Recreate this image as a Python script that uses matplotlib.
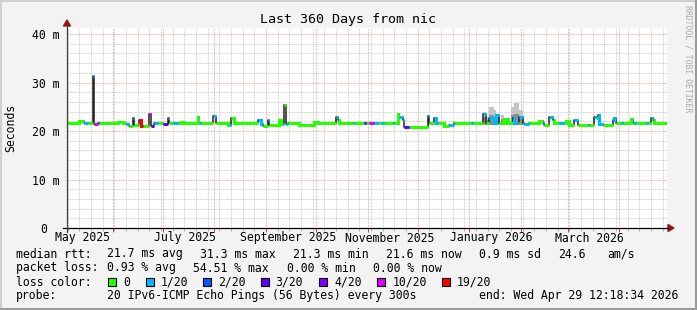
import datetime as dt
import numpy as np
import matplotlib
matplotlib.use("Agg")
import matplotlib.pyplot as plt
import matplotlib.dates as mdates
from matplotlib.lines import Line2D
from matplotlib.patches import Rectangle, Polygon
from matplotlib.transforms import ScaledTranslation

# ---------------- data ----------------
title = "Last 360 Days from nic"
y_label = "Seconds"
watermark = "RRDTOOL / TOBI OETIKER"
end_time = "2026-04-29 12:18:34"
range_days = 360

ytick_values = [0, 10, 20, 30, 40]
ytick_labels = ["0", "10 m", "20 m", "30 m", "40 m"]
xlabel_dates = ["2025-05-14", "2025-07-14", "2025-09-14", "2025-11-14", "2026-01-14", "2026-03-14"]
xlabel_texts = ["May 2025", "July 2025", "September 2025", "November 2025", "January 2026", "March 2026"]

loss_labels = ["0", "1/20", "2/20", "3/20", "4/20", "10/20", "19/20"]
loss_colors = ["#26ff00", "#00b8ff", "#0059ff", "#5e00ff", "#7e00ff", "#dd00ff", "#ff0000"]

# median rtt (ms); each value holds until the next date
med_dates = [
    "2025-05-04", "2025-05-12", "2025-05-15", "2025-05-17", "2025-05-20", "2025-05-21", "2025-05-23", "2025-05-24",
    "2025-06-04", "2025-06-07", "2025-06-09", "2025-06-11", "2025-06-13", "2025-06-14", "2025-06-17", "2025-06-18",
    "2025-06-19", "2025-06-23", "2025-06-24", "2025-06-26", "2025-06-28", "2025-07-01", "2025-07-04", "2025-07-05",
    "2025-07-07", "2025-07-10", "2025-07-12", "2025-07-14", "2025-07-22", "2025-07-23", "2025-07-24", "2025-07-31",
    "2025-08-02", "2025-08-09", "2025-08-10", "2025-08-11", "2025-08-13", "2025-08-27", "2025-08-29", "2025-08-30",
    "2025-09-02", "2025-09-03", "2025-09-09", "2025-09-10", "2025-09-11", "2025-09-12", "2025-09-13", "2025-09-14",
    "2025-09-21", "2025-09-30", "2025-10-02", "2025-10-13", "2025-10-14", "2025-10-15", "2025-10-23", "2025-10-24",
    "2025-10-30", "2025-10-31", "2025-11-02", "2025-11-05", "2025-11-07", "2025-11-09", "2025-11-11", "2025-11-16",
    "2025-11-17", "2025-11-19", "2025-11-20", "2025-11-22", "2025-11-23", "2025-11-26", "2025-12-07", "2025-12-08",
    "2025-12-11", "2025-12-12", "2025-12-13", "2025-12-17", "2025-12-20", "2025-12-23", "2026-01-02", "2026-01-03",
    "2026-01-09", "2026-01-11", "2026-01-13", "2026-01-16", "2026-01-17", "2026-01-19", "2026-01-22", "2026-01-24",
    "2026-01-27", "2026-01-28", "2026-01-30", "2026-01-31", "2026-02-02", "2026-02-03", "2026-02-06", "2026-02-12",
    "2026-02-14", "2026-02-15", "2026-02-18", "2026-02-20", "2026-02-21", "2026-02-24", "2026-02-27", "2026-02-28",
    "2026-03-02", "2026-03-05", "2026-03-07", "2026-03-13", "2026-03-14", "2026-03-17", "2026-03-18", "2026-03-19",
    "2026-03-20", "2026-03-22", "2026-03-28", "2026-03-29", "2026-03-30", "2026-04-02", "2026-04-03", "2026-04-08",
    "2026-04-09", "2026-04-11", "2026-04-17", "2026-04-18", "2026-04-20", "2026-04-21", "2026-04-22",
]
med_ms = [
    21.6, 22.0, 21.6, 21.6, 31.3, 21.5, 21.6, 21.6,
    21.8, 21.6, 21.4, 21.1, 22.6, 21.2, 22.3, 21.1,
    21.1, 23.5, 21.1, 21.6, 21.6, 21.5, 22.6, 21.7,
    21.6, 21.6, 21.9, 21.6, 22.9, 21.6, 21.6, 23.0,
    21.6, 21.2, 21.3, 22.6, 21.6, 22.3, 21.4, 21.0,
    22.2, 21.2, 22.2, 21.5, 21.4, 25.4, 21.5, 21.6,
    21.2, 21.9, 21.6, 22.9, 22.2, 21.6, 21.6, 21.6,
    21.6, 21.6, 21.6, 21.6, 21.6, 21.6, 21.6, 21.6,
    21.6, 23.6, 22.8, 22.2, 20.9, 20.9, 23.1, 21.6,
    22.6, 21.6, 21.6, 21.0, 21.3, 21.6, 21.6, 21.6,
    23.6, 21.6, 22.6, 21.6, 23.4, 21.6, 22.4, 21.6,
    22.6, 21.6, 21.6, 22.9, 21.6, 21.4, 21.6, 22.1,
    21.6, 21.2, 22.9, 22.3, 21.6, 21.6, 21.6, 22.1,
    21.2, 22.3, 21.2, 21.2, 21.2, 22.9, 22.6, 23.2,
    21.4, 21.2, 22.3, 22.6, 21.6, 21.6, 21.6, 22.4,
    21.6, 21.6, 21.6, 21.6, 22.7, 22.3, 21.6,
]
med_loss = [
    0, 0, 1, 0, 1, 5, 2, 0,
    0, 0, 1, 0, 1, 0, 6, 6,
    0, 5, 3, 1, 0, 3, 1, 0,
    1, 0, 0, 0, 0, 1, 0, 1,
    0, 0, 1, 0, 0, 1, 1, 0,
    1, 0, 0, 0, 1, 0, 1, 0,
    0, 0, 0, 1, 0, 0, 1, 0,
    3, 0, 5, 1, 0, 1, 0, 1,
    0, 0, 1, 0, 3, 0, 1, 0,
    1, 1, 0, 0, 1, 0, 1, 0,
    1, 0, 1, 1, 1, 0, 0, 0,
    1, 1, 0, 1, 0, 1, 0, 0,
    1, 0, 1, 0, 0, 1, 0, 0,
    0, 1, 0, 1, 0, 1, 0, 1,
    1, 0, 1, 1, 0, 1, 0, 0,
    1, 0, 1, 0, 1, 0, 0,
]

# smoke (ping spread) around the median, in ms
smoke_dates = [
    "2026-01-09", "2026-01-11", "2026-01-13", "2026-01-16", "2026-01-17", "2026-01-19", "2026-01-20",
    "2026-01-22", "2026-01-24", "2026-01-26", "2026-01-28", "2026-01-31", "2026-02-02", "2026-02-03",
    "2026-02-07", "2026-03-28", "2026-03-30",
]
smoke_low_ms = [21.2, 21.3, 21.2, 21.2, 21.2, 21.4, 21.2, 21.2, 21.4, 21.2, 21.2, 21.2, 21.4, 21.2, np.nan, 21.2, np.nan]
smoke_top_ms = [24.0, 22.9, 25.0, 24.3, 23.6, 22.0, 23.3, 22.6, 22.0, 25.0, 25.7, 24.3, 22.0, 23.0, np.nan, 22.9, np.nan]
smoke_core_ms = [22.8, 22.2, 23.2, 22.8, 22.6, 21.8, 22.4, 22.1, 21.8, 23.2, 23.6, 22.8, 21.8, 22.2, np.nan, 22.1, np.nan]

legend_rtt = ["median rtt:", "21.7 ms avg", "31.3 ms max", "21.3 ms min", "21.6 ms now", "0.9 ms sd", "24.6", "am/s"]
legend_loss = ["packet loss:", "0.93 % avg", "54.51 % max", "0.00 % min", "0.00 % now"]
legend_probe = ["probe:", "20 IPv6-ICMP Echo Pings (56 Bytes) every 300s", "end: Wed Apr 29 12:18:34 2026"]

# ---------------- style / layout ----------------
W, H, DPI = 697, 310, 100
MONO = "DejaVu Sans Mono"
FS = 8.3
BG = "#f3f3f3"
MINOR_GRID = "#c8c8c8"
MAJOR_GRID = "#eaa0a0"
ARROW = "#8b1a1a"

def fx(px):
    return px / W

def fy(py):
    return 1 - py / H

fig = plt.figure(figsize=(W / DPI, H / DPI), dpi=DPI, facecolor=BG)
ax = fig.add_axes([fx(67), fy(228), 600 / W, 200 / H])
ax.set_facecolor("white")
for s in ax.spines.values():
    s.set_visible(False)

t_end = dt.datetime.strptime(end_time, "%Y-%m-%d %H:%M:%S")
t_start = t_end - dt.timedelta(days=range_days)
ax.set_xlim(t_start, t_end)
ax.set_ylim(0, 41.24)

# grid
dots = (0, (0.72, 0.72))
for yv in np.arange(2, 41.3, 2):
    major = abs(yv % 10) < 1e-9
    ax.axhline(yv, color=MAJOR_GRID if major else MINOR_GRID, lw=0.72, ls=dots, zorder=1)
d = (t_start + dt.timedelta(days=(6 - t_start.weekday()) % 7 + 1)).replace(hour=0, minute=0, second=0)
weeks = []
while d < t_end:
    weeks.append(d)
    d += dt.timedelta(days=7)
months = []
m = dt.datetime(t_start.year, t_start.month, 1)
while m < t_end:
    if m > t_start:
        months.append(m)
    m = dt.datetime(m.year + (m.month // 12), m.month % 12 + 1, 1)
for w in weeks:
    if w not in months:
        ax.axvline(w, color=MINOR_GRID, lw=0.72, ls=dots, zorder=1)
for mm in months:
    ax.axvline(mm, color=MAJOR_GRID, lw=0.72, ls=dots, zorder=1)

# smoke
sd = [dt.datetime.strptime(s, "%Y-%m-%d") for s in smoke_dates]
ax.fill_between(sd, smoke_low_ms, smoke_top_ms, step="post", color="#c4c4c4", lw=0, zorder=2)
ax.fill_between(sd, smoke_low_ms, smoke_core_ms, step="post", color="#8e8e8e", lw=0, zorder=2)

# median line
md = [dt.datetime.strptime(s, "%Y-%m-%d") for s in med_dates] + [t_end]
mv = np.array(med_ms + [med_ms[-1]], dtype=float)
ml = np.array(med_loss + [med_loss[-1]])
ax.step(md, mv, where="post", color="#202020", lw=1.1, zorder=3)
for i, c in enumerate(loss_colors):
    vv = np.where(ml == i, mv, np.nan)
    ax.step(md, vv, where="post", color=c, lw=2.2, solid_capstyle="butt", solid_joinstyle="miter", zorder=4)

# ticks
ax.set_yticks(ytick_values)
ax.set_yticklabels(ytick_labels, fontfamily=MONO, fontsize=FS)
ax.tick_params(axis="y", length=0, pad=5.2)
lab0 = ax.get_yticklabels()[0]
lab0.set_transform(lab0.get_transform() + ScaledTranslation(-13 / DPI, 0, fig.dpi_scale_trans))
ax.set_xticks(months)
ax.set_xticklabels([])
ax.set_xticks(weeks, minor=True)
ax.tick_params(axis="x", which="major", length=3, color="#d04040", direction="out", width=0.72)
ax.tick_params(axis="x", which="minor", length=2, color="#b0b0b0", direction="out", width=0.72)
for dstr, txt in zip(xlabel_dates, xlabel_texts):
    ax.text(dt.datetime.strptime(dstr, "%Y-%m-%d"), -10 / 200, txt, transform=ax.get_xaxis_transform(),
            ha="center", va="center", fontfamily=MONO, fontsize=FS, clip_on=False)

# axes lines and arrows
fig.add_artist(Line2D([fx(63), fx(668)], [fy(228), fy(228)], color="black", lw=0.9))
fig.add_artist(Line2D([fx(67), fx(67)], [fy(232), fy(26)], color="#404040", lw=0.9))
fig.add_artist(Polygon([[fx(668), fy(224.5)], [fx(674), fy(228)], [fx(668), fy(231.5)]], closed=True, color=ARROW))
fig.add_artist(Polygon([[fx(63.5), fy(26)], [fx(67), fy(20)], [fx(70.5), fy(26)]], closed=True, color=ARROW))

# texts
fig.text(fx(348), fy(20), title, ha="center", va="center", fontfamily=MONO, fontsize=9.6)
fig.text(fx(10.5), fy(128), y_label, rotation=90, ha="center", va="center", fontfamily=MONO, fontsize=FS)
fig.text(fx(688), fy(59), watermark, rotation=270, ha="center", va="center", fontfamily=MONO, fontsize=5.9,
         color="#a8a8a8")

rtt_x = [16, 107.3, 200, 293, 386, 479.3, 558.3, 607.3]
for s, x in zip(legend_rtt, rtt_x):
    fig.text(fx(x), fy(254), s, ha="left", va="center", fontfamily=MONO, fontsize=FS)
loss_x = [16, 107.3, 192.7, 286.7, 372.7]
for s, x in zip(legend_loss, loss_x):
    fig.text(fx(x), fy(268), s, ha="left", va="center", fontfamily=MONO, fontsize=FS)
fig.text(fx(16), fy(282), "loss color:", ha="left", va="center", fontfamily=MONO, fontsize=FS)
box_x = [108.3, 145.7, 203.3, 260.7, 319.3, 377.3, 441.7]
for lbl, c, x in zip(loss_labels, loss_colors, box_x):
    fig.add_artist(Rectangle((fx(x), fy(286)), 8 / W, 8 / H, facecolor=c, edgecolor="black", lw=0.8))
    fig.text(fx(x + 15), fy(282), lbl, ha="left", va="center", fontfamily=MONO, fontsize=FS)
probe_x = [16, 107.3, 479]
for s, x in zip(legend_probe, probe_x):
    fig.text(fx(x), fy(296), s, ha="left", va="center", fontfamily=MONO, fontsize=FS)

# frame
fig.add_artist(Line2D([0, 1], [fy(0.8), fy(0.8)], color="#cfcfcf", lw=1.5))
fig.add_artist(Line2D([fx(0.8), fx(0.8)], [0, 1], color="#cfcfcf", lw=1.5))
fig.add_artist(Line2D([0, 1], [fy(309), fy(309)], color="#9a9a9a", lw=1.5))
fig.add_artist(Line2D([fx(696), fx(696)], [0, 1], color="#9a9a9a", lw=1.5))

fig.savefig("out.png", dpi=DPI, facecolor=BG)
